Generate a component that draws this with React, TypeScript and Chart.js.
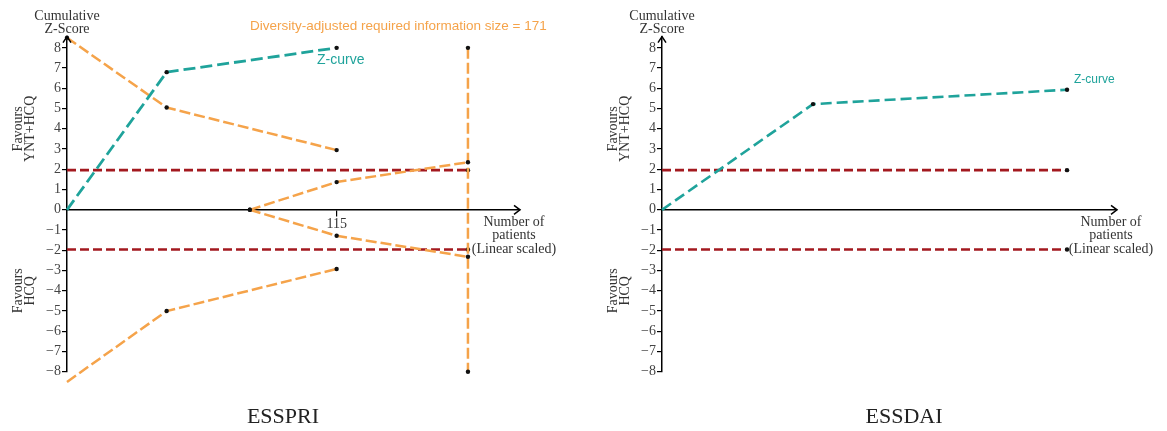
import React, { useEffect, useRef } from 'react';
import { Chart, registerables } from 'chart.js';

Chart.register(...registerables);

// ---------- data ----------
const yTicks = [-8, -7, -6, -5, -4, -3, -2, -1, 0, 1, 2, 3, 4, 5, 6, 7, 8];
const esspriXTicks = [115];
const conventionalZ = 1.96;

// ESSPRI panel
const esspriZX = [0, 42.5, 115];
const esspriZY = [0, 6.8, 8.0];
const esspriBoundX = [0, 42.5, 115];
const esspriUpperY = [8.5, 5.05, 2.95];
const esspriLowerY = [-8.5, -5.0, -2.92];
const esspriFutX = [78, 115, 171];
const esspriFutUpperY = [0, 1.37, 2.35];
const esspriFutLowerY = [0, -1.28, -2.32];
const esspriRIS = 171;
const risLineY = [8, -8];

// ESSDAI panel
const essdaiZX = [0, 64.4, 172.7];
const essdaiZY = [0, 5.22, 5.93];

// ---------- styles ----------
const ORANGE = '#F5A34A';
const TEAL = '#1FA39B';
const RED = '#A3191F';
const DOT = '#111';
const SERIF = '"Liberation Serif", "Times New Roman", serif';
const SANS = '"Liberation Sans", Arial, sans-serif';

const pts = (xs: number[], ys: number[]) => xs.map((x, i) => ({ x, y: ys[i] }));

function lineDs(data: any[], color: string, dash: number[], width: number, radius: number | number[]) {
  return {
    data,
    borderColor: color,
    borderDash: dash,
    borderWidth: width,
    pointRadius: radius,
    pointBackgroundColor: DOT,
    pointBorderWidth: 0,
    pointHoverRadius: 0,
    fill: false,
    tension: 0,
    clip: false as any,
  };
}

type PanelCfg = {
  title: string;
  titleX: number;
  yAxisWidth: number;
  padRight: number;
  xMax: number;
  xTicks: number[] | null;
  datasets: any[];
  annotations: { text: string; color: string; x: number; y: number; size: number; align: CanvasTextAlign }[];
};

function decorPlugin(cfg: PanelCfg) {
  return {
    id: 'panelDecor',
    afterDraw(chart: any) {
      const { ctx, chartArea, scales } = chart;
      const x0 = chartArea.left;
      const xr = chartArea.right;
      const yZero = scales.y.getPixelForValue(0);
      ctx.save();
      ctx.strokeStyle = '#000';
      ctx.lineWidth = 1.5;
      // y axis arrow
      ctx.beginPath();
      ctx.moveTo(x0 - 4, chartArea.top + 6);
      ctx.lineTo(x0, chartArea.top);
      ctx.lineTo(x0 + 4, chartArea.top + 6);
      ctx.stroke();
      // x axis arrow
      ctx.beginPath();
      ctx.moveTo(xr - 6, yZero - 4.5);
      ctx.lineTo(xr, yZero);
      ctx.lineTo(xr - 6, yZero + 4.5);
      ctx.stroke();

      ctx.fillStyle = '#333';
      ctx.font = `14px ${SERIF}`;
      ctx.textAlign = 'center';
      ctx.textBaseline = 'middle';
      ctx.fillText('Cumulative', x0, 16);
      ctx.fillText('Z-Score', x0, 29);

      // x axis title
      ctx.fillText('Number of', xr - 6, yZero + 12.5);
      ctx.fillText('patients', xr - 6, yZero + 26);
      ctx.fillText('(Linear scaled)', xr - 6, yZero + 39.5);

      // rotated y labels
      const rot = (lines: string[], yc: number) => {
        ctx.save();
        ctx.translate(x0 - 43, yc);
        ctx.rotate(-Math.PI / 2);
        ctx.fillText(lines[0], 0, -6);
        ctx.fillText(lines[1], 0, 6);
        ctx.restore();
      };
      rot(['Favours', 'YNT+HCQ'], scales.y.getPixelForValue(4));
      rot(['Favours', 'HCQ'], scales.y.getPixelForValue(-4));

      // annotations
      for (const a of cfg.annotations) {
        ctx.fillStyle = a.color;
        ctx.font = `${a.size}px ${SANS}`;
        ctx.textAlign = a.align;
        ctx.fillText(a.text, x0 + a.x, a.y);
      }

      // panel title
      ctx.fillStyle = '#222';
      ctx.font = `22px ${SERIF}`;
      ctx.textAlign = 'center';
      ctx.fillText(cfg.title, cfg.titleX, 417);
      ctx.restore();
    },
  };
}

function Panel({ cfg, width, left }: { cfg: PanelCfg; width: number; left: number }) {
  const ref = useRef<HTMLCanvasElement>(null);
  useEffect(() => {
    const canvas = ref.current!;
    const chart = new Chart(canvas, {
      type: 'line',
      data: { datasets: cfg.datasets },
      options: {
        animation: false,
        responsive: false,
        devicePixelRatio: 1,
        layout: { padding: { left: 0, top: 36.7, right: cfg.padRight, bottom: 59.2 } },
        plugins: { legend: { display: false }, tooltip: { enabled: false }, title: { display: false } },
        events: [],
        scales: {
          x: {
            type: 'linear',
            min: 0,
            max: cfg.xMax,
            position: { y: 0 } as any,
            grid: { drawOnChartArea: false, drawTicks: !!cfg.xTicks, tickLength: 6, color: '#000', lineWidth: 1.2 },
            border: { display: true, color: '#000', width: 1.5 },
            ticks: {
              display: !!cfg.xTicks,
              padding: 0,
              color: '#333',
              font: { family: SERIF, size: 14 },
              callback: (v: any) => String(v),
            },
            afterBuildTicks: (s: any) => {
              if (cfg.xTicks) s.ticks = cfg.xTicks.map((v) => ({ value: v }));
            },
          },
          y: {
            type: 'linear',
            position: 'left',
            min: -8,
            max: 8.55,
            grid: { drawOnChartArea: false, tickLength: 5, color: '#000', lineWidth: 1.2 },
            border: { display: true, color: '#000', width: 1.5 },
            ticks: {
              padding: 1,
              color: '#444',
              font: { family: SERIF, size: 14 },
              callback: (v: any) => String(v).replace('-', '\u2212'),
            },
            afterBuildTicks: (s: any) => {
              s.ticks = yTicks.map((v) => ({ value: v }));
            },
            afterFit: (s: any) => {
              s.width = cfg.yAxisWidth;
            },
          },
        },
      },
      plugins: [decorPlugin(cfg)],
    });
    return () => chart.destroy();
  }, []);
  return (
    <canvas
      ref={ref}
      width={width}
      height={431}
      style={{ position: 'absolute', left, top: 0, width, height: 431 }}
    />
  );
}

const esspriCfg: PanelCfg = {
  title: 'ESSPRI',
  titleX: 283,
  yAxisWidth: 67,
  padRight: 63,
  xMax: 193.2,
  xTicks: esspriXTicks,
  datasets: [
    lineDs(pts(esspriZX, esspriZY), TEAL, [12, 5], 2.8, [0, 2.2, 2.2]),
    lineDs(pts(esspriBoundX, esspriUpperY), ORANGE, [11, 4], 2.5, 2.2),
    lineDs(pts(esspriBoundX, esspriLowerY), ORANGE, [11, 4], 2.5, 2.2),
    lineDs(pts(esspriFutX, esspriFutUpperY), ORANGE, [11, 4], 2.5, 2.2),
    lineDs(pts(esspriFutX, esspriFutLowerY), ORANGE, [11, 4], 2.5, 2.2),
    lineDs(pts([esspriRIS, esspriRIS], risLineY), ORANGE, [11, 4], 2.5, 2.2),
    lineDs(pts([0, esspriRIS], [conventionalZ, conventionalZ]), RED, [9, 4], 2.6, [0, 2.2]),
    lineDs(pts([0, esspriRIS], [-conventionalZ, -conventionalZ]), RED, [9, 4], 2.6, [0, 2.2]),
  ],
  annotations: [
    { text: 'Diversity-adjusted required information size = 171', color: ORANGE, x: 183, y: 26, size: 13.5, align: 'left' },
    { text: 'Z-curve', color: TEAL, x: 250, y: 60, size: 14, align: 'left' },
  ],
};

const essdaiCfg: PanelCfg = {
  title: 'ESSDAI',
  titleX: 321,
  yAxisWidth: 79,
  padRight: 50,
  xMax: 194,
  xTicks: null,
  datasets: [
    lineDs(pts(essdaiZX, essdaiZY), TEAL, [11, 5], 2.6, [0, 2.2, 2.2]),
    lineDs(pts([0, essdaiZX[2]], [conventionalZ, conventionalZ]), RED, [9, 4], 2.6, [0, 2.2]),
    lineDs(pts([0, essdaiZX[2]], [-conventionalZ, -conventionalZ]), RED, [9, 4], 2.6, [0, 2.2]),
  ],
  annotations: [{ text: 'Z-curve', color: TEAL, x: 412, y: 80, size: 12, align: 'left' }],
};

export default function App() {
  return (
    <div style={{ position: 'fixed', left: 0, top: 0, width: 1167, height: 431, background: '#fff' }}>
      <Panel cfg={esspriCfg} width={583} left={0} />
      <Panel cfg={essdaiCfg} width={584} left={583} />
    </div>
  );
}
